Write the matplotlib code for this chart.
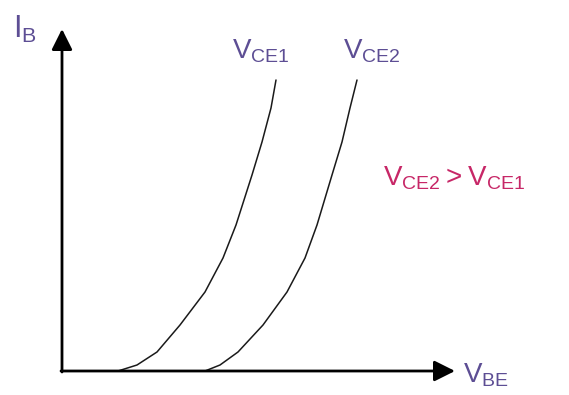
import matplotlib
matplotlib.use("Agg")
import matplotlib.pyplot as plt

plt.rcParams['mathtext.fontset'] = 'custom'
plt.rcParams['mathtext.rm'] = 'Liberation Sans'
plt.rcParams['font.family'] = ['Liberation Sans', 'DejaVu Sans']

# Input characteristic curves (arbitrary units): base current vs base-emitter voltage
i_b = [0, 6, 19, 46, 79, 113, 146, 196, 229, 263, 291]
v_be_vce1 = [56, 75, 95, 118, 143, 161, 174, 190, 200, 209, 214]
v_be_vce2 = [143, 158, 176, 201, 225, 243, 255, 270, 280, 288, 295]

curve_labels = [r"$\mathregular{V_{CE1}}$", r"$\mathregular{V_{CE2}}$"]
x_label = r"$\mathregular{V_{BE}}$"
y_label = r"$\mathregular{I_{B}}$"
relation = r"$\mathregular{V_{CE2} > V_{CE1}}$"

purple = "#5d4e94"
magenta = "#c72767"

fig = plt.figure(figsize=(5.69, 3.95), dpi=100)
ax = fig.add_axes([0, 0, 1, 1])
ax.set_xlim(-62, 507)
ax.set_ylim(-24, 371)
ax.axis("off")

# Axes drawn as arrows
arrow_kw = dict(arrowstyle="-|>,head_length=0.9,head_width=0.45", lw=2.0,
                color="black", mutation_scale=14, shrinkA=0, shrinkB=0)
ax.annotate("", xy=(393, 0), xytext=(-1, 0), arrowprops=arrow_kw)
ax.annotate("", xy=(0, 342), xytext=(0, -1), arrowprops=arrow_kw)

line_kw = dict(color="#1a1a1a", lw=1.1, solid_capstyle="round", solid_joinstyle="round")
ax.plot(v_be_vce1, i_b, **line_kw)
ax.plot(v_be_vce2, i_b, **line_kw)

ax.text(169.7, 312.7, curve_labels[0], color=purple, fontsize=20, ha="left", va="baseline")
ax.text(281, 312.7, curve_labels[1], color=purple, fontsize=20, ha="left", va="baseline")
ax.text(321, 186, relation, color=magenta, fontsize=20, ha="left", va="baseline")
ax.text(401, -11.7, x_label, color=purple, fontsize=20, ha="left", va="baseline")
ax.text(-49, 332.7, y_label, color=purple, fontsize=22, ha="left", va="baseline")

fig.savefig("out.png", dpi=100)
